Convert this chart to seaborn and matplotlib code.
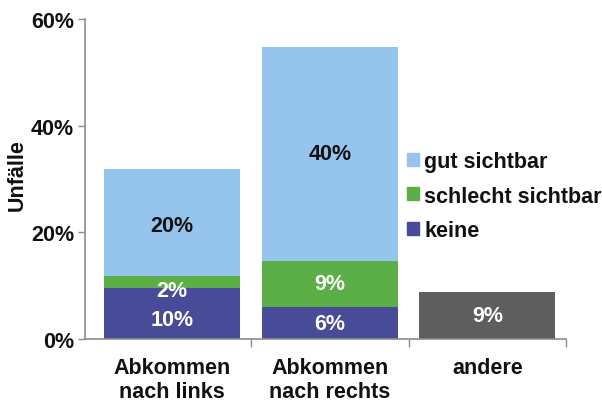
import numpy as np
import pandas as pd
import matplotlib
matplotlib.use("Agg")
import matplotlib.pyplot as plt
import seaborn as sns
from matplotlib.patches import Patch
from matplotlib.ticker import PercentFormatter

# Data (percent of accidents)
categories = ["Abkommen\nnach links", "Abkommen\nnach rechts", "andere"]
keine = [9.6, 6.0, np.nan]
schlecht = [2.2, 8.7, np.nan]
gut = [20.0, 40.1, np.nan]
andere = [np.nan, np.nan, 8.9]

keine_labels = ["10%", "6%", None]
schlecht_labels = ["2%", "9%", None]
gut_labels = ["20%", "40%", None]
andere_labels = [None, None, "9%"]

colors = {
    "gut": "#95c4ec",
    "schlecht": "#5cae47",
    "keine": "#474b98",
    "andere": "#5e5e5e",
}

sns.set_theme(style="white")
plt.rcParams["font.family"] = ["Liberation Sans", "DejaVu Sans"]
plt.rcParams["font.weight"] = "bold"
plt.rcParams["text.color"] = "#111111"
plt.rcParams["xtick.color"] = "#111111"
plt.rcParams["ytick.color"] = "#111111"
plt.rcParams["axes.labelcolor"] = "#111111"

fs = 15.5


def main():
    df = pd.DataFrame({
        "cat": categories,
        "keine": keine,
        "schlecht": schlecht,
        "gut": gut,
        "andere": andere,
    })
    df["cum_schlecht"] = df.keine + df.schlecht
    df["cum_gut"] = df.cum_schlecht + df.gut

    fig = plt.figure(figsize=(6.02, 4.02), dpi=100)
    ax = fig.add_axes([85 / 602, 1 - 340 / 402, (566 - 85) / 602, 320 / 402])

    w = 0.866
    # stacked bars drawn from the top down
    for col, c in [("cum_gut", "gut"), ("cum_schlecht", "schlecht"), ("keine", "keine"), ("andere", "andere")]:
        sns.barplot(data=df, x="cat", y=col, order=categories, color=colors[c],
                    width=w, saturation=1, errorbar=None, ax=ax, linewidth=0)

    # value labels (small nudge for the thin segments of the first bar)
    nudge = [-1.2, 0.0, 0.0]
    for i in range(len(categories)):
        if keine_labels[i]:
            ax.text(i, keine[i] / 2 + nudge[i], keine_labels[i], ha="center", va="center",
                    color="white", fontsize=fs, fontweight="bold")
            ax.text(i, keine[i] + schlecht[i] / 2 + nudge[i] * 1.3, schlecht_labels[i],
                    ha="center", va="center", color="white", fontsize=fs, fontweight="bold")
            ax.text(i, keine[i] + schlecht[i] + gut[i] / 2 + nudge[i] * 0.5, gut_labels[i],
                    ha="center", va="center", color="#111111", fontsize=fs, fontweight="bold")
        if andere_labels[i]:
            ax.text(i, andere[i] / 2, andere_labels[i], ha="center", va="center",
                    color="white", fontsize=fs, fontweight="bold")

    ax.set_xlim(-0.554, 2.5)
    ax.set_ylim(0, 60)
    ax.set_yticks([0, 20, 40, 60])
    ax.yaxis.set_major_formatter(PercentFormatter(decimals=0))
    ax.tick_params(axis="y", left=True, length=5, width=1, color="#8c8c8c",
                   labelsize=fs, pad=3)
    ax.set_xticks(range(3))
    ax.set_xticklabels(categories, fontsize=fs, fontweight="bold", linespacing=1.2)
    ax.set_xticks([0.5, 1.5, 2.5], minor=True)
    ax.tick_params(axis="x", which="major", length=0, pad=13)
    ax.tick_params(axis="x", which="minor", bottom=True, length=6, width=1, color="#8c8c8c")
    for lab in ax.get_yticklabels():
        lab.set_fontweight("bold")

    ax.set_xlabel("")
    ax.set_ylabel("Unfälle", fontsize=fs, fontweight="bold")
    ax.yaxis.set_label_coords(-0.118, 0.516)

    sns.despine(ax=ax)
    for s in ["left", "bottom"]:
        ax.spines[s].set_color("#8c8c8c")
        ax.spines[s].set_linewidth(1.2)

    handles = [Patch(color=colors["gut"], label="gut sichtbar"),
               Patch(color=colors["schlecht"], label="schlecht sichtbar"),
               Patch(color=colors["keine"], label="keine")]
    ax.legend(handles=handles, loc="upper left", bbox_to_anchor=(0.67, 0.587),
              frameon=False, fontsize=fs, handlelength=0.55, handleheight=0.55,
              handletextpad=0.25, labelspacing=0.62, borderaxespad=0, borderpad=0)

    fig.savefig("out.png", dpi=100)


if __name__ == "__main__":
    main()
